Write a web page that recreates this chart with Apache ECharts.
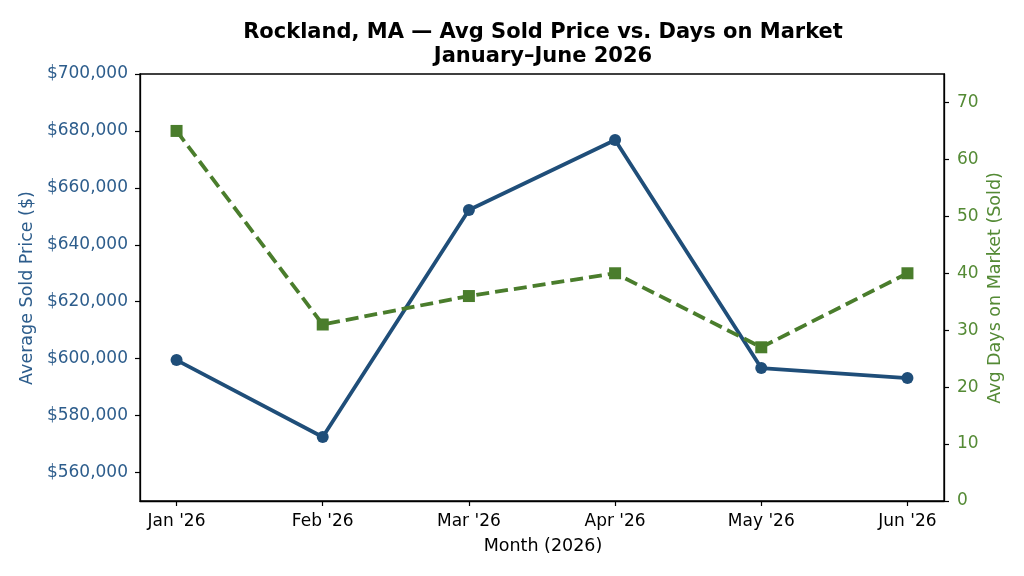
<!DOCTYPE html>
<html><head><meta charset="utf-8">
<script src="https://cdn.jsdelivr.net/npm/echarts@6/dist/echarts.min.js"></script>
<style>html,body{margin:0;padding:0;background:#fff}#c{width:1024px;height:576px}</style>
</head><body><div id="c"></div>
<script>
const categories = ["Jan '26","Feb '26","Mar '26","Apr '26","May '26","Jun '26"];
const avgSoldPrice = [599500, 572500, 652200, 676800, 596700, 593200];
const avgDaysOnMarket = [65, 31, 36, 40, 27, 40];
const priceTicks = [560000, 580000, 600000, 620000, 640000, 660000, 680000, 700000];
const domTicks = [0, 10, 20, 30, 40, 50, 60, 70];

const BLUE = '#1f4e79', GREEN = '#4a7d2c';
const BLUE_LBL = '#2d5d8c', GREEN_LBL = '#548a35';
const FONT = 'DejaVu Sans';
const idx = categories.map((_, i) => i);

const chart = echarts.init(document.getElementById('c'), null, {renderer: 'canvas'});
chart.setOption({
  animation: false,
  backgroundColor: '#fff',
  textStyle: {fontFamily: FONT},
  grid: {left: 140, right: 80, top: 74, bottom: 75, show: true, borderColor: '#000', borderWidth: 1.3, containLabel: false},
  xAxis: {
    type: 'value', min: -0.25, max: 5.25,
    axisLine: {show: true, onZero: false, lineStyle: {color: '#000', width: 1.3}},
    axisTick: {show: true, customValues: idx, length: 5, lineStyle: {color: '#000', width: 1.2}},
    axisLabel: {customValues: idx, margin: 12, fontSize: 17, color: '#000', fontFamily: FONT,
      formatter: v => categories[Math.round(v)] || ''},
    splitLine: {show: false}
  },
  yAxis: [{
    type: 'value', min: 550000, max: 700000, position: 'left',
    axisLine: {show: true, onZero: false, lineStyle: {color: '#000', width: 1.3}},
    axisTick: {show: true, customValues: priceTicks, length: 5, lineStyle: {color: '#000', width: 1.2}},
    axisLabel: {customValues: priceTicks, margin: 12, fontSize: 17, color: BLUE_LBL, fontFamily: FONT,
      formatter: v => '$' + v.toLocaleString('en-US')},
    splitLine: {show: false}
  }, {
    type: 'value', min: 0, max: 75, position: 'right',
    axisLine: {show: true, onZero: false, lineStyle: {color: '#000', width: 1.3}},
    axisTick: {show: true, customValues: domTicks, length: 5, lineStyle: {color: '#000', width: 1.2}},
    axisLabel: {customValues: domTicks, margin: 13, fontSize: 17, color: GREEN_LBL, fontFamily: FONT},
    splitLine: {show: false}
  }],
  series: [{
    type: 'line', yAxisIndex: 0,
    data: avgSoldPrice.map((v, i) => [i, v]),
    lineStyle: {color: BLUE, width: 3.8},
    itemStyle: {color: BLUE},
    symbol: 'circle', symbolSize: 12, showSymbol: true, z: 3
  }, {
    type: 'line', yAxisIndex: 1,
    data: avgDaysOnMarket.map((v, i) => [i, v]),
    lineStyle: {color: GREEN, width: 3.8, type: [13, 6]},
    itemStyle: {color: GREEN},
    symbol: 'rect', symbolSize: 12, showSymbol: true, z: 4
  }],
  graphic: [
    {type: 'text', x: 543, y: 33, style: {text: 'Rockland, MA — Avg Sold Price vs. Days on Market', font: 'bold 21px "DejaVu Sans"', fill: '#000', align: 'center', verticalAlign: 'middle'}},
    {type: 'text', x: 543, y: 57, style: {text: 'January–June 2026', font: 'bold 21px "DejaVu Sans"', fill: '#000', align: 'center', verticalAlign: 'middle'}},
    {type: 'text', x: 543, y: 546, style: {text: 'Month (2026)', font: '17.5px "DejaVu Sans"', fill: '#000', align: 'center', verticalAlign: 'middle'}},
    {type: 'text', x: 27, y: 288, rotation: Math.PI / 2, style: {text: 'Average Sold Price ($)', font: '17.5px "DejaVu Sans"', fill: BLUE_LBL, align: 'center', verticalAlign: 'middle'}},
    {type: 'text', x: 995, y: 288, rotation: Math.PI / 2, style: {text: 'Avg Days on Market (Sold)', font: '17.5px "DejaVu Sans"', fill: GREEN_LBL, align: 'center', verticalAlign: 'middle'}}
  ]
});
</script></body></html>
